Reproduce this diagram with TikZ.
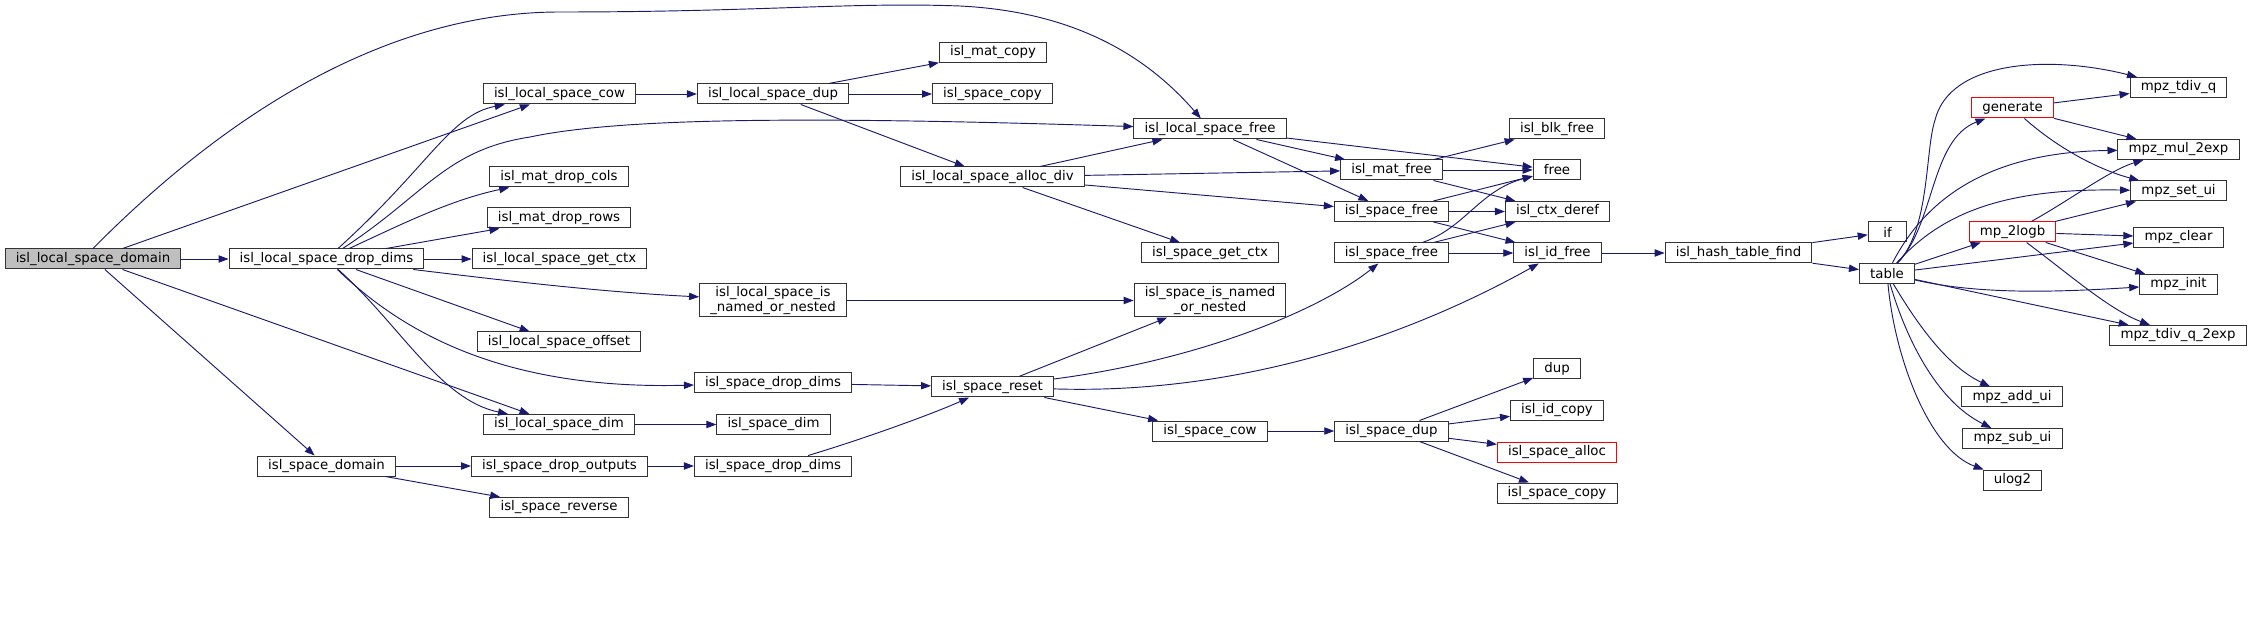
\documentclass[tikz,border=0pt]{standalone}
\usepackage{fontspec}
\setmainfont{DejaVu Sans}
\usetikzlibrary{arrows.meta}
\definecolor{edgeblue}{HTML}{191970}
\definecolor{rootgray}{HTML}{BFBFBF}

\begin{document}
\begin{tikzpicture}[x=0.75pt, y=-0.75pt,
    fn/.style={draw=black!80, line width=0.75pt, fill=white, font=\fontsize{10pt}{9pt}\selectfont,
        inner xsep=8pt, inner ysep=0pt, minimum height=15pt, minimum width=29pt, align=center},
    root/.style={fn, fill=rootgray},
    miss/.style={fn, draw=red},
    call/.style={draw=edgeblue, line width=0.7pt, -{Triangle[length=7.5pt, width=5.5pt]}}]
    \useasboundingbox (0,0) rectangle (2252,641);

    \node[root] at (93,259) (dom) {isl\_local\_space\_domain};
    \node[fn] at (326.5,259) (lsdrop) {isl\_local\_space\_drop\_dims};
    \node[fn] at (559.5,94) (lscow) {isl\_local\_space\_cow};
    \node[fn] at (559,177) (dropcols) {isl\_mat\_drop\_cols};
    \node[fn] at (559,218) (droprows) {isl\_mat\_drop\_rows};
    \node[fn] at (559.5,259) (lsctx) {isl\_local\_space\_get\_ctx};
    \node[fn] at (559,342) (lsoff) {isl\_local\_space\_offset};
    \node[fn] at (559,424.5) (lsdim) {isl\_local\_space\_dim};
    \node[fn] at (326.5,466) (spdom) {isl\_space\_domain};
    \node[fn] at (559.5,466) (dropout) {isl\_space\_drop\_outputs};
    \node[fn] at (559,507.5) (sprev) {isl\_space\_reverse};
    \node[fn] at (773,94) (lsdup) {isl\_local\_space\_dup};
    \node[fn] at (993,52.5) (matcopy) {isl\_mat\_copy};
    \node[fn] at (992.5,94) (spcopya) {isl\_space\_copy};
    \node[fn] at (992.5,177) (lsalloc) {isl\_local\_space\_alloc\_div};
    \node[fn, minimum height=24.75pt] at (773,300.5) (lsnamed) {isl\_local\_space\_is\\\_named\_or\_nested};
    \node[fn] at (773,383) (spdropa) {isl\_space\_drop\_dims};
    \node[fn] at (773.5,424.5) (spdim) {isl\_space\_dim};
    \node[fn] at (773,466) (spdropb) {isl\_space\_drop\_dims};
    \node[fn] at (1210,129) (lsfree) {isl\_local\_space\_free};
    \node[fn] at (1210,253) (spctx) {isl\_space\_get\_ctx};
    \node[fn, minimum height=24.75pt] at (1210,300.5) (spnamed) {isl\_space\_is\_named\\\_or\_nested};
    \node[fn] at (992.5,387) (spreset) {isl\_space\_reset};
    \node[fn] at (1210,431) (spcow) {isl\_space\_cow};
    \node[fn] at (1391.5,170) (matfree) {isl\_mat\_free};
    \node[fn] at (1391.5,211.5) (spfreea) {isl\_space\_free};
    \node[fn] at (1391.5,253) (spfreeb) {isl\_space\_free};
    \node[fn] at (1391.5,431) (spdup) {isl\_space\_dup};
    \node[fn] at (1557,129) (blkfree) {isl\_blk\_free};
    \node[fn] at (1557,170) (free) {free};
    \node[fn] at (1557.5,211.5) (ctxderef) {isl\_ctx\_deref};
    \node[fn] at (1557.5,253) (idfree) {isl\_id\_free};
    \node[fn] at (1557,369) (dup) {dup};
    \node[fn] at (1557,410.5) (idcopy) {isl\_id\_copy};
    \node[miss] at (1557,452) (spalloc) {isl\_space\_alloc};
    \node[fn] at (1557,493) (spcopyb) {isl\_space\_copy};
    \node[fn] at (1738.5,253) (hfind) {isl\_hash\_table\_find};
    \node[fn] at (1887.5,232) (if) {if};
    \node[fn] at (1887,273.5) (table) {table};
    \node[miss] at (2012.5,108) (gen) {generate};
    \node[fn] at (2178.5,87.5) (tdivq) {mpz\_tdiv\_q};
    \node[fn] at (2178.5,149.5) (mulexp) {mpz\_mul\_2exp};
    \node[fn] at (2178.5,191) (setui) {mpz\_set\_ui};
    \node[miss] at (2012.5,232) (logb) {mp\_2logb};
    \node[fn] at (2178.5,237.5) (clear) {mpz\_clear};
    \node[fn] at (2178.5,284.5) (init) {mpz\_init};
    \node[fn] at (2178,335.5) (tdivqexp) {mpz\_tdiv\_q\_2exp};
    \node[fn] at (2012,397) (addui) {mpz\_add\_ui};
    \node[fn] at (2012.5,438.5) (subui) {mpz\_sub\_ui};
    \node[fn] at (2012.5,480) (ulog) {ulog2};

    \draw[call] (dom.north) .. controls (230,110) and (390,12) .. (560,12)
        .. controls (760,12) and (850,2) .. (960,6)
        .. controls (1080,12) and (1150,60) .. (lsfree);
    \draw[call] (dom) -- (lscow);
    \draw[call] (dom) -- (lsdrop);
    \draw[call] (dom) -- (lsdim);
    \draw[call] (dom) -- (spdom);

    \draw[call] (lsdrop) .. controls (430,165) and (450,115) .. (lscow);
    \draw[call] (lsdrop) .. controls (425,195) and (445,150) .. (530,137)
        .. controls (620,118) and (800,116) .. (lsfree);
    \draw[call] (lsdrop) .. controls (400,225) and (450,200) .. (dropcols);
    \draw[call] (lsdrop) -- (droprows);
    \draw[call] (lsdrop) -- (lsctx);
    \draw[call] (lsdrop) .. controls (500,280) and (600,292) .. (lsnamed);
    \draw[call] (lsdrop) -- (lsoff);
    \draw[call] (lsdrop) .. controls (400,330) and (500,390) .. (spdropa);
    \draw[call] (lsdrop) .. controls (400,325) and (440,400) .. (lsdim);

    \draw[call] (lscow) -- (lsdup);
    \draw[call] (lsdup) -- (matcopy);
    \draw[call] (lsdup) -- (spcopya);
    \draw[call] (lsdup) -- (lsalloc);
    \draw[call] (lsalloc) -- (lsfree);
    \draw[call] (lsalloc) -- (matfree);
    \draw[call] (lsalloc) -- (spfreea);
    \draw[call] (lsalloc) -- (spctx);
    \draw[call] (lsfree) -- (free);
    \draw[call] (lsfree) -- (matfree);
    \draw[call] (lsfree) -- (spfreea);
    \draw[call] (matfree) -- (blkfree);
    \draw[call] (matfree) -- (free);
    \draw[call] (matfree) -- (ctxderef);
    \draw[call] (spfreea) -- (free);
    \draw[call] (spfreea) -- (ctxderef);
    \draw[call] (spfreea) -- (idfree);
    \draw[call] (spfreeb) .. controls (1465,228) and (1480,190) .. (free);
    \draw[call] (spfreeb) -- (ctxderef);
    \draw[call] (spfreeb) -- (idfree);

    \draw[call] (lsnamed) -- (spnamed);
    \draw[call] (spdropa) -- (spreset);
    \draw[call] (spreset) -- (spnamed);
    \draw[call] (spreset) .. controls (1200,360) and (1320,310) .. (spfreeb);
    \draw[call] (spreset) .. controls (1250,395) and (1420,330) .. (idfree);
    \draw[call] (spreset) -- (spcow);
    \draw[call] (spcow) -- (spdup);
    \draw[call] (spdup) -- (dup);
    \draw[call] (spdup) -- (idcopy);
    \draw[call] (spdup) -- (spalloc);
    \draw[call] (spdup) -- (spcopyb);
    \draw[call] (lsdim) -- (spdim);
    \draw[call] (spdom) -- (dropout);
    \draw[call] (spdom) -- (sprev);
    \draw[call] (dropout) -- (spdropb);
    \draw[call] (spdropb) .. controls (860,440) and (930,415) .. (spreset);

    \draw[call] (idfree) -- (hfind);
    \draw[call] (hfind) -- (if);
    \draw[call] (hfind) -- (table);

    \draw[call] (table) .. controls (1930,230) and (1925,150) .. (1935,120)
        .. controls (1950,60) and (2050,55) .. (tdivq);
    \draw[call] (table) .. controls (1935,225) and (1930,140) .. (gen);
    \draw[call] (table) .. controls (1930,190) and (2000,152) .. (mulexp);
    \draw[call] (table) .. controls (1940,215) and (2000,188) .. (setui);
    \draw[call] (table) -- (logb);
    \draw[call] (table) -- (clear);
    \draw[call] (table) .. controls (1980,295) and (2060,292) .. (init);
    \draw[call] (table) -- (tdivqexp);
    \draw[call] (table) .. controls (1915,320) and (1945,365) .. (addui);
    \draw[call] (table) .. controls (1905,335) and (1935,400) .. (subui);
    \draw[call] (table) .. controls (1895,360) and (1930,450) .. (ulog);

    \draw[call] (gen) -- (tdivq);
    \draw[call] (gen) -- (mulexp);
    \draw[call] (gen) .. controls (2060,150) and (2100,170) .. (setui);
    \draw[call] (logb) .. controls (2070,200) and (2110,170) .. (mulexp);
    \draw[call] (logb) -- (setui);
    \draw[call] (logb) -- (clear);
    \draw[call] (logb) -- (init);
    \draw[call] (logb) .. controls (2070,275) and (2110,310) .. (tdivqexp);
\end{tikzpicture}
\end{document}
